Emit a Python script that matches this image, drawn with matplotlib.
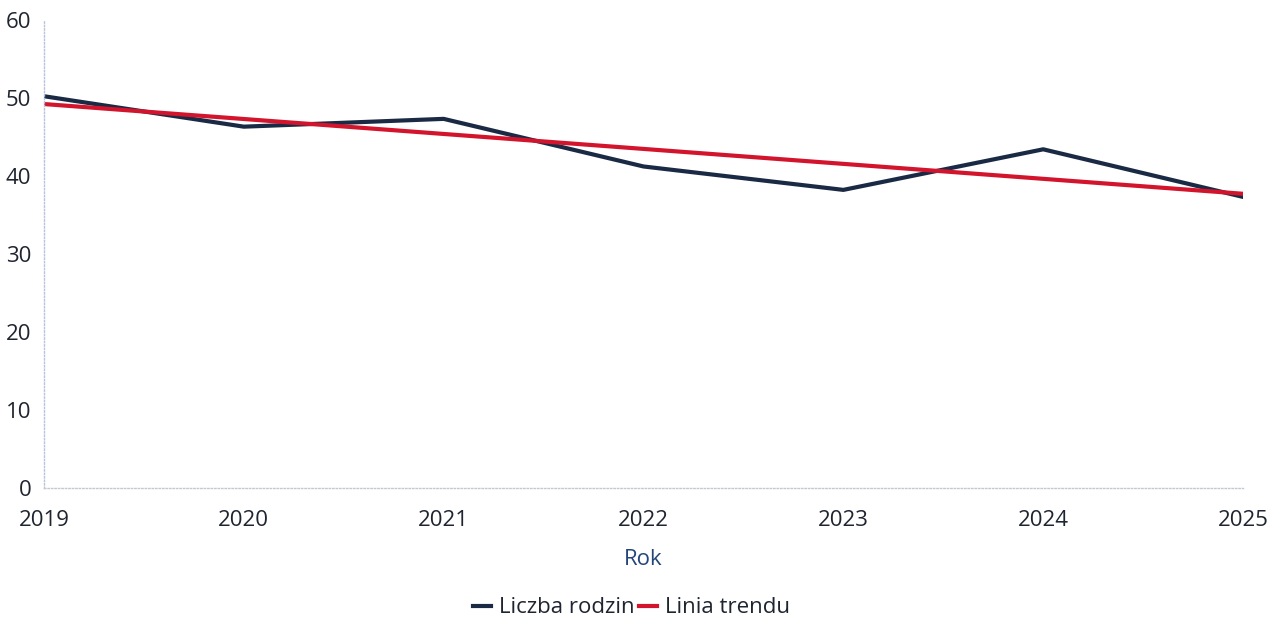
import matplotlib

matplotlib.use("Agg")

import matplotlib.pyplot as plt

years = [2019, 2020, 2021, 2022, 2023, 2024, 2025]
families = [50.2, 46.3, 47.3, 41.2, 38.2, 43.4, 37.3]
trend_years = [2019, 2025]
trend_values = [49.2, 37.7]

NAVY = "#1b2a44"
RED = "#d2152d"
TEXT = "#1f2530"

plt.rcParams["font.family"] = ["Open Sans", "DejaVu Sans"]

fig = plt.figure(figsize=(12.71, 6.19), dpi=100)
ax = fig.add_axes([0.0346, 0.2116, 0.9434, 0.7565])

ax.plot(years, families, color=NAVY, linewidth=3, label="Liczba rodzin", solid_joinstyle="round")
ax.plot(trend_years, trend_values, color=RED, linewidth=3, label="Linia trendu")

ax.set_xlim(2019, 2025)
ax.set_ylim(0, 60)
ax.set_xticks(years)
ax.set_yticks(range(0, 61, 10))

for side in ("top", "right"):
    ax.spines[side].set_visible(False)
ax.spines["left"].set_color("#b8c4dc")
ax.spines["left"].set_linestyle((0, (1, 1.5)))
ax.spines["left"].set_linewidth(1)
ax.spines["bottom"].set_color("#c4c8d0")
ax.spines["bottom"].set_linestyle((0, (1, 1.5)))
ax.spines["bottom"].set_linewidth(1)

ax.tick_params(axis="both", length=0, labelsize=16, colors=TEXT)
ax.tick_params(axis="x", pad=16)
ax.tick_params(axis="y", pad=9)

ax.set_xlabel("Rok", fontsize=16, color="#24457a", labelpad=13)

ax.legend(
    loc="center", bbox_to_anchor=(0.49, -0.256), ncol=2, frameon=False,
    fontsize=16, handlelength=0.8, handletextpad=0.35, columnspacing=0.2,
    labelcolor=TEXT,
)

fig.savefig("out.png", dpi=100)
